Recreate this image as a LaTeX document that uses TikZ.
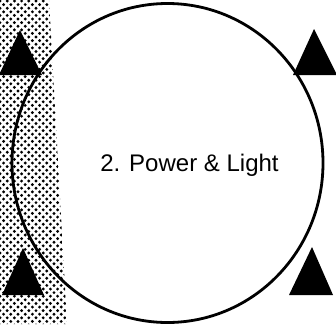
\documentclass[tikz,border=0pt]{standalone}
\usepackage{fontspec}
\setmainfont{Liberation Sans}
\usetikzlibrary{shapes.geometric}
\begin{document}
\begin{tikzpicture}[x=1pt,y=-1pt,
  tri/.style={fill=black,draw=none},
  ring/.style={draw=black,line width=2.8pt,ellipse,inner sep=0pt,minimum width=311pt,minimum height=319pt},
  lbl/.style={font=\fontsize{24}{28}\selectfont,inner sep=0pt}]
\useasboundingbox (0,0) rectangle (336,324);
\fill[white] (0,0) rectangle (336,324);
% stippled strip
\begin{scope}
  \clip (0,0) -- (49,0) -- (67,324) -- (0,324) -- cycle;
  \foreach \j in {0,...,94}{
    \pgfmathsetmacro{\off}{mod(\j,2)*3.6}
    \foreach \i in {0,...,10}{
      \fill[black] ({\i*7.2+\off},{\j*3.6+1}) circle (1.6);
    }
  }
\end{scope}
% circle
\node[ring] (c) at (167.5,163) {};
% triangles
\fill[tri] (20,30) -- (-1,75) -- (42,75) -- cycle;
\fill[tri] (23,248) -- (2,295) -- (44,295) -- cycle;
\fill[tri] (314,29) -- (293,75) -- (337,75) -- cycle;
\fill[tri] (312,247) -- (289,295) -- (333,295) -- cycle;
% label
\node[lbl] (t) at (189.5,165) {2. Power \& Light};
\end{tikzpicture}
\end{document}
